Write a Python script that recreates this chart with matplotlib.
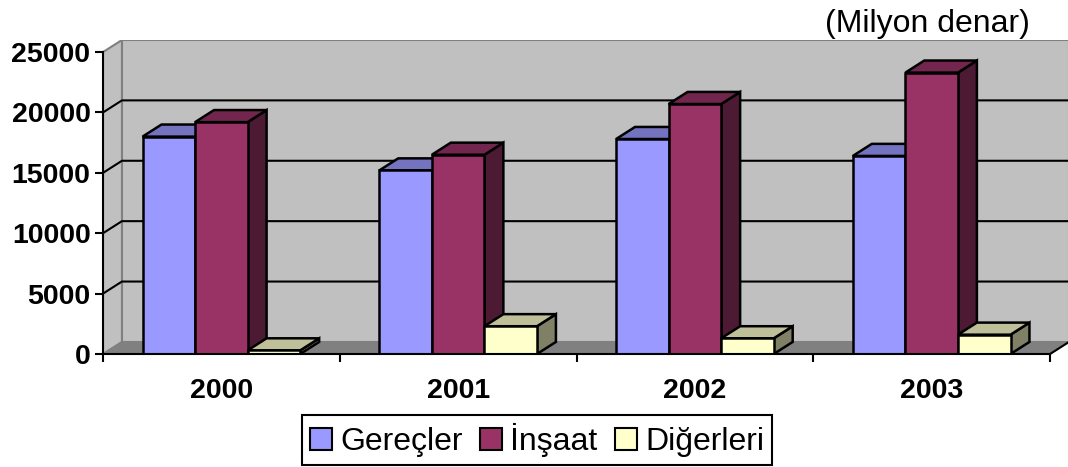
import matplotlib
matplotlib.use("Agg")
import matplotlib.pyplot as plt
from matplotlib.patches import Polygon, Patch

plt.rcParams['font.family'] = ['Liberation Sans', 'DejaVu Sans']

# --- Data ---
years = ["2000", "2001", "2002", "2003"]
series_names = ["Gereçler", "İnşaat", "Diğerleri"]
gerecler = [18000, 15200, 17800, 16400]
insaat = [19200, 16500, 20700, 23300]
digerleri = [300, 2300, 1300, 1600]
y_ticks = [0, 5000, 10000, 15000, 20000, 25000]
unit_label = "(Milyon denar)"

# --- Styles: (front, top, side) per series ---
COLORS = [
    ("#9999FF", "#7373BF", "#4D4D80"),
    ("#993366", "#73264D", "#4D1A33"),
    ("#FFFFCC", "#BFBF99", "#808066"),
]
WALL = "#C0C0C0"
FLOOR = "#808080"
DX = 0.08      # depth offset in category units
DY = 1000      # depth offset in value units
BAR_W = 0.222
YMAX = y_ticks[-1]


def poly(ax, pts, fc, ec="black", lw=1.8, z=2):
    ax.add_patch(Polygon(pts, closed=True, facecolor=fc, edgecolor=ec,
                         linewidth=lw, zorder=z, joinstyle="miter"))


def draw_bar(ax, xc, h, colors, z):
    """Front face + top + right side of a pseudo-3D column."""
    front, top, side = colors
    x0, x1 = xc - BAR_W / 2, xc + BAR_W / 2
    poly(ax, [(x1, 0), (x1 + DX, DY), (x1 + DX, h + DY), (x1, h)], side, z=z)
    poly(ax, [(x0, h), (x0 + DX, h + DY), (x1 + DX, h + DY), (x1, h)], top, z=z)
    poly(ax, [(x0, 0), (x1, 0), (x1, h), (x0, h)], front, z=z)


fig = plt.figure(figsize=(10.68, 4.67), dpi=100)
ax = fig.add_axes([103 / 1068, 113 / 467, 966 / 1068, 314 / 467])
ax.set_xlim(-0.5, len(years) - 0.5 + DX)
ax.set_ylim(0, YMAX + DY)
xl, xr = -0.5, len(years) - 0.5

# walls and floor
poly(ax, [(xl + DX, DY), (xr + DX, DY), (xr + DX, YMAX + DY), (xl + DX, YMAX + DY)],
     WALL, ec="#808080", lw=1.5, z=0)
poly(ax, [(xl, 0), (xl, YMAX), (xl + DX, YMAX + DY), (xl + DX, DY)],
     WALL, ec="#808080", lw=1.5, z=0)
poly(ax, [(xl, 0), (xr, 0), (xr + DX, DY), (xl + DX, DY)], FLOOR, ec=FLOOR, lw=1, z=0.5)
ax.plot([xr, xr + DX], [0, DY], color="black", lw=1.5, zorder=0.6, clip_on=False)

# gridlines on back wall + left wall
for v in y_ticks[1:-1]:
    ax.plot([xl, xl + DX, xr + DX], [v, v + DY, v + DY], color="black", lw=1.5, zorder=1)

# bars
all_series = [gerecler, insaat, digerleri]
z = 2
for i in range(len(years)):
    for j, vals in enumerate(all_series):
        draw_bar(ax, i + (j - 1) * BAR_W, vals[i], COLORS[j], z)
        z += 0.01

# axes
for s in ["top", "right"]:
    ax.spines[s].set_visible(False)
ax.spines["left"].set_bounds(0, YMAX)
ax.spines["bottom"].set_bounds(xl, xr)
for s in ["left", "bottom"]:
    ax.spines[s].set_linewidth(1.5)
    ax.spines[s].set_zorder(5)
ax.set_yticks(y_ticks)
ax.set_yticklabels([str(v) for v in y_ticks], fontsize=20.5, fontweight="bold")
ax.set_xticks(range(len(years)))
ax.set_xticklabels(years, fontsize=20.5, fontweight="bold")
ax.set_xticks([k - 0.5 for k in range(len(years) + 1)], minor=True)
ax.tick_params(axis="x", which="major", length=0, pad=17)
ax.tick_params(axis="x", which="minor", length=6, width=1.5, direction="out")
ax.tick_params(axis="y", length=6, width=1.5, direction="out", pad=3)

fig.text(1030 / 1068, 1 - 24 / 467, unit_label, ha="right", va="center", fontsize=23)

handles = [Patch(facecolor=c[0], edgecolor="black", linewidth=1.5) for c in COLORS]
leg = fig.legend(handles, series_names, loc="center", bbox_to_anchor=(537 / 1068, 27 / 467),
                 ncol=3, fontsize=23, frameon=True, fancybox=False, edgecolor="black",
                 framealpha=1, handlelength=0.7, handleheight=0.7, handletextpad=0.25,
                 columnspacing=0.55, borderpad=0.25, borderaxespad=0)
leg.get_frame().set_linewidth(1.5)

fig.savefig("out.png", dpi=100)
